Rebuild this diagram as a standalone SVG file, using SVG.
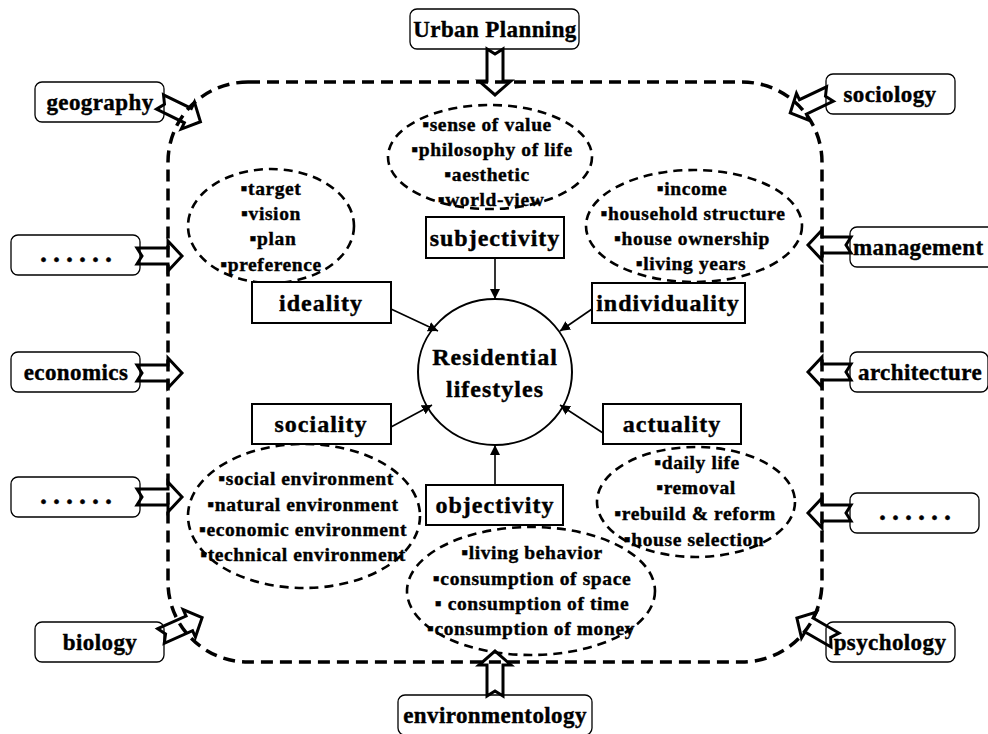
<svg xmlns="http://www.w3.org/2000/svg" width="988" height="734" viewBox="0 0 988 734">
<style>
text{font-family:"Liberation Serif","Times New Roman",serif;font-weight:bold;fill:#000;stroke:#000;stroke-width:0.4;text-anchor:middle}
.ob{fill:#fff;stroke:#000;stroke-width:1.3}
.ol{font-size:23px;letter-spacing:0.4px}
.ib{fill:#fff;stroke:#000;stroke-width:2}
.il{font-size:24px;letter-spacing:1px}
.el{fill:none;stroke:#000;stroke-width:2.6;stroke-dasharray:9 6}
.bl{font-size:19.5px;letter-spacing:0.6px}
.dots{font-size:28px;letter-spacing:6px}
.blk{fill:none;stroke:#000;stroke-width:3;stroke-linejoin:miter}
.cn{stroke:#000;stroke-width:1.6;fill:none;marker-end:url(#ah)}
</style>
<defs>
<marker id="ah" viewBox="0 0 10 10" refX="10" refY="5" markerWidth="10" markerHeight="10" markerUnits="userSpaceOnUse" orient="auto">
<path d="M0,0 L10,5 L0,10 Z" fill="#000"/>
</marker>
</defs>
<rect width="988" height="734" fill="#fff"/>

<g id="boundary">
<rect x="168" y="82" width="654" height="580" rx="80" ry="80" fill="none" stroke="#000" stroke-width="3.5" stroke-dasharray="12 7"/>
</g>

<!-- outer discipline nodes -->
<g id="urban-planning"><rect class="ob" x="410" y="9" width="169" height="40" rx="7"/><text class="ol" x="495" y="37">Urban Planning</text></g>
<g id="geography"><rect class="ob" x="35" y="82" width="129" height="40" rx="7"/><text class="ol" x="100" y="110">geography</text></g>
<g id="sociology"><rect class="ob" x="826" y="74" width="129" height="40" rx="7"/><text class="ol" x="890" y="102">sociology</text></g>
<g id="dots-left-1"><rect class="ob" x="11" y="235" width="129" height="40" rx="7"/><text class="dots" x="79" y="262">......</text></g>
<g id="management"><rect class="ob" x="850" y="227" width="150" height="40" rx="7"/><text class="ol" x="853" y="255" style="text-anchor:start">management</text></g>
<g id="economics"><rect class="ob" x="11" y="352" width="129" height="40" rx="7"/><text class="ol" x="76" y="380">economics</text></g>
<g id="architecture"><rect class="ob" x="850" y="352" width="138" height="40" rx="7"/><text class="ol" x="920" y="380">architecture</text></g>
<g id="dots-left-2"><rect class="ob" x="11" y="477" width="129" height="40" rx="7"/><text class="dots" x="79" y="504">......</text></g>
<g id="dots-right"><rect class="ob" x="850" y="493" width="129" height="40" rx="7"/><text class="dots" x="918" y="520">......</text></g>
<g id="biology"><rect class="ob" x="35" y="622" width="129" height="40" rx="7"/><text class="ol" x="100" y="650">biology</text></g>
<g id="psychology"><rect class="ob" x="826" y="622" width="129" height="40" rx="7"/><text class="ol" x="890" y="650">psychology</text></g>
<g id="environmentology"><rect class="ob" x="398" y="695" width="194" height="40" rx="7"/><text class="ol" x="495" y="723">environmentology</text></g>

<!-- ellipses -->
<g id="ideality-items">
<ellipse class="el" cx="271" cy="226" rx="83" ry="57"/>
<text class="bl" x="271" y="195">▪target</text>
<text class="bl" x="271" y="220">▪vision</text>
<text class="bl" x="273" y="245">▪plan</text>
<text class="bl" x="271" y="271">▪preference</text>
</g>
<g id="subjectivity-items">
<ellipse class="el" cx="490" cy="157" rx="102" ry="52"/>
<text class="bl" x="487" y="131">▪sense of value</text>
<text class="bl" x="492" y="156">▪philosophy of life</text>
<text class="bl" x="487" y="181">▪aesthetic</text>
<text class="bl" x="491" y="206">▪world-view</text>
</g>
<g id="individuality-items">
<ellipse class="el" cx="694" cy="226" rx="108" ry="56"/>
<text class="bl" x="692" y="195">▪income</text>
<text class="bl" x="693" y="220">▪household structure</text>
<text class="bl" x="692" y="245">▪house ownership</text>
<text class="bl" x="691" y="270">▪living years</text>
</g>
<g id="sociality-items">
<ellipse class="el" cx="304" cy="516" rx="116" ry="72"/>
<text class="bl" x="306" y="485">▪social environment</text>
<text class="bl" x="303" y="511">▪natural environment</text>
<text class="bl" x="303" y="536">▪economic environment</text>
<text class="bl" x="303" y="561">▪technical environment</text>
</g>
<g id="objectivity-items">
<ellipse class="el" cx="531" cy="591" rx="124" ry="64"/>
<text class="bl" x="532" y="559">▪living behavior</text>
<text class="bl" x="532" y="585">▪consumption of space</text>
<text class="bl" x="532" y="610">▪ consumption of time</text>
<text class="bl" x="531" y="635">▪consumption of money</text>
</g>
<g id="actuality-items">
<ellipse class="el" cx="696" cy="502" rx="99" ry="55"/>
<text class="bl" x="697" y="469">▪daily life</text>
<text class="bl" x="696" y="494">▪removal</text>
<text class="bl" x="695" y="520">▪rebuild &amp; reform</text>
<text class="bl" x="694" y="546">▪house selection</text>
</g>

<!-- aspect boxes -->
<g id="subjectivity"><rect class="ib" x="426" y="217" width="138" height="41"/><text class="il" x="495" y="246">subjectivity</text></g>
<g id="ideality"><rect class="ib" x="252" y="282" width="139" height="41"/><text class="il" x="321" y="311">ideality</text></g>
<g id="individuality"><rect class="ib" x="592" y="283" width="153" height="40"/><text class="il" x="668" y="311">individuality</text></g>
<g id="sociality"><rect class="ib" x="252" y="404" width="139" height="40"/><text class="il" x="321" y="432">sociality</text></g>
<g id="actuality"><rect class="ib" x="603" y="404" width="138" height="40"/><text class="il" x="672" y="432">actuality</text></g>
<g id="objectivity"><rect class="ib" x="426" y="485" width="137" height="40"/><text class="il" x="495" y="513">objectivity</text></g>

<g id="residential-lifestyles">
<ellipse cx="495" cy="372" rx="77" ry="73" fill="#fff" stroke="#000" stroke-width="2"/>
<text class="il" x="495" y="365">Residential</text>
<text class="il" x="495" y="397">lifestyles</text>
</g>

<g id="connectors">
<line class="cn" x1="495" y1="258" x2="495" y2="299"/>
<line class="cn" x1="391" y1="309" x2="438" y2="331"/>
<line class="cn" x1="592" y1="309" x2="560" y2="331"/>
<line class="cn" x1="391" y1="427" x2="432" y2="405"/>
<line class="cn" x1="603" y1="433" x2="560" y2="405"/>
<line class="cn" x1="495" y1="485" x2="495" y2="445"/>

<path class="blk" transform="translate(495,49) rotate(90)" d="M0,-8 H32 V-16 L46,0 L32,16 V8 H0 L5,0 Z"/>
<path class="blk" transform="translate(495,696) rotate(-90)" d="M0,-8 H31 V-16 L45,0 L31,16 V8 H0 L5,0 Z"/>
<path class="blk" transform="translate(137,256)" d="M0,-8 H31 V-15 L45,0 L31,15 V8 H0 L5,0 Z"/>
<path class="blk" transform="translate(137,373)" d="M0,-8 H31 V-15 L45,0 L31,15 V8 H0 L5,0 Z"/>
<path class="blk" transform="translate(137,497)" d="M0,-8 H31 V-15 L45,0 L31,15 V8 H0 L5,0 Z"/>
<path class="blk" transform="translate(851,245) rotate(180)" d="M0,-8 H29 V-15 L43,0 L29,15 V8 H0 L5,0 Z"/>
<path class="blk" transform="translate(851,372) rotate(180)" d="M0,-8 H29 V-15 L43,0 L29,15 V8 H0 L5,0 Z"/>
<path class="blk" transform="translate(851,513) rotate(180)" d="M0,-8 H29 V-15 L43,0 L29,15 V8 H0 L5,0 Z"/>
<path class="blk" transform="translate(160,102) rotate(26)" d="M0,-8 H31 V-15 L45,0 L31,15 V8 H0 L5,0 Z"/>
<path class="blk" transform="translate(830,94) rotate(154.6)" d="M0,-8 H30 V-15 L44,0 L30,15 V8 H0 L5,0 Z"/>
<path class="blk" transform="translate(161,636) rotate(-24)" d="M0,-8 H31 V-15 L45,0 L31,15 V8 H0 L5,0 Z"/>
<path class="blk" transform="translate(835,640) rotate(-150)" d="M0,-8 H30 V-15 L44,0 L30,15 V8 H0 L5,0 Z"/>
</g>
</svg>
